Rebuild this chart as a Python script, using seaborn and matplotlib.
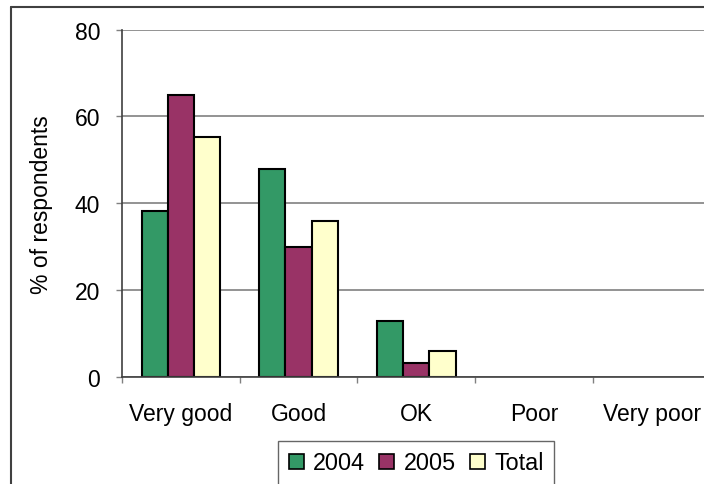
import pandas as pd
import seaborn as sns
import matplotlib.pyplot as plt
from matplotlib.patches import Patch
from matplotlib.lines import Line2D

# Ratings and % of respondents per group
ratings = ["Very good", "Good", "OK", "Poor", "Very poor"]
groups = ["2004", "2005", "Total"]
vals_2004 = [38.2, 47.8, 12.8, 0, 0]
vals_2005 = [65.0, 30.0, 3.3, 0, 0]
vals_total = [55.2, 35.9, 6.0, 0, 0]
colours = ["#339966", "#993366", "#FFFFCC"]

df = pd.DataFrame({
    "rating": ratings * 3,
    "group": [g for g in groups for _ in ratings],
    "pct": vals_2004 + vals_2005 + vals_total,
})

sns.set_theme(style="white")
plt.rcParams["font.family"] = ["Liberation Sans", "DejaVu Sans"]
plt.rcParams["text.color"] = "black"
plt.rcParams["axes.labelcolor"] = "black"
plt.rcParams["xtick.color"] = "black"
plt.rcParams["ytick.color"] = "black"

fs = 16.5

fig = plt.figure(figsize=(7.04, 4.85), dpi=100)
ax = fig.add_axes([122 / 704, 107 / 485, 588.5 / 704, 347.5 / 485])

sns.barplot(data=df, x="rating", y="pct", hue="group", order=ratings,
            hue_order=groups, palette=colours, width=0.667, saturation=1,
            edgecolor="black", linewidth=1.5, legend=False, ax=ax)

# empty bars show no outline
for p in ax.patches:
    if p.get_height() == 0:
        p.set_linewidth(0)

ax.set_xlim(-0.5, 4.5)
ax.set_ylim(0, 80)
ax.set_yticks([0, 20, 40, 60, 80])
ax.yaxis.grid(True, color="#808080", linewidth=1.2)
ax.set_axisbelow(True)

for s in ["top", "right"]:
    ax.spines[s].set_visible(False)
for s in ["left", "bottom"]:
    ax.spines[s].set_color("#404040")
    ax.spines[s].set_linewidth(1.2)

ax.tick_params(axis="y", length=4.3, width=1, color="#808080", pad=11.5,
               labelsize=fs, left=True)
ax.tick_params(axis="x", which="major", length=0, pad=18, labelsize=fs)
ax.set_xticks([-0.5, 0.5, 1.5, 2.5, 3.5, 4.5], minor=True)
ax.tick_params(axis="x", which="minor", length=4.3, width=1, color="#808080",
               bottom=True)

ax.set_xlabel("")
ax.set_ylabel("% of respondents", fontsize=fs)
ax.yaxis.set_label_coords(-0.118, 0.5)

# legend below the plot
handles = [Patch(facecolor=c, edgecolor="black", linewidth=1.2) for c in colours]
leg = fig.legend(handles, groups, loc="upper left",
                 bbox_to_anchor=(278 / 704, 1 - 442 / 485), ncol=3,
                 fontsize=16.8, frameon=True, fancybox=False,
                 handlelength=0.65, handleheight=0.65, handletextpad=0.4,
                 columnspacing=0.6, borderpad=0.45, borderaxespad=0)
leg.get_frame().set_edgecolor("#404040")
leg.get_frame().set_linewidth(1.0)

# outer chart-area border (cut off at right and bottom)
y_top = 1 - 7.5 / 485
x_left = 11 / 704
fig.add_artist(Line2D([x_left, x_left], [-0.1, y_top], transform=fig.transFigure,
                      color="#404040", linewidth=1.5))
fig.add_artist(Line2D([x_left, 1.1], [y_top, y_top], transform=fig.transFigure,
                      color="#404040", linewidth=1.5))

fig.savefig("out.png", dpi=100)
